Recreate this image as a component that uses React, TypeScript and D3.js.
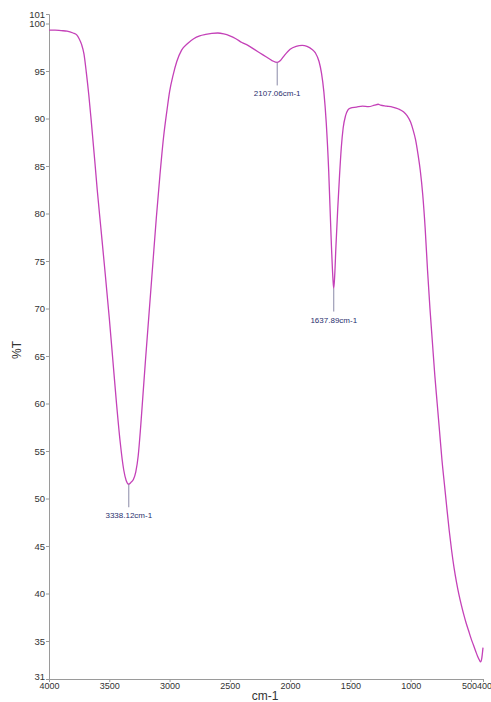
import React, { useEffect, useRef } from 'react';
import * as d3 from 'd3';

// IR spectrum, wavenumber (cm-1) vs transmittance (%T)
const wavenumbers = [
  4000, 3950, 3900, 3850, 3800, 3770, 3750, 3730, 3710, 3690, 3670, 3650, 3620, 3600, 3570, 3540,
  3500, 3470, 3440, 3410, 3380, 3360, 3338, 3320, 3300, 3280, 3260, 3240, 3220, 3200, 3170, 3140,
  3110, 3080, 3050, 3020, 3000, 2970, 2940, 2900, 2850, 2800, 2750, 2700, 2650, 2600, 2550, 2500,
  2450, 2400, 2350, 2300, 2250, 2200, 2150, 2107, 2080, 2050, 2000, 1950, 1900, 1860, 1820, 1790,
  1760, 1740, 1720, 1700, 1680, 1660, 1645, 1638, 1630, 1620, 1605, 1590, 1575, 1560, 1540, 1520,
  1500, 1450, 1400, 1350, 1300, 1270, 1250, 1200, 1150, 1100, 1060, 1030, 1000, 980, 960, 940,
  920, 900, 880, 860, 840, 820, 800, 780, 760, 740, 720, 700, 680, 660, 640, 620,
  600, 580, 560, 540, 520, 500, 480, 460, 445, 430, 420, 410, 400,
];
const transmittance = [
  99.3, 99.3, 99.25, 99.2, 99.0, 98.8, 98.4, 97.8, 96.8, 94.8, 92.5, 89.8, 85.5, 82.5, 78.5, 74.5,
  69.0, 64.5, 60.0, 56.0, 53.0, 51.9, 51.5, 51.7, 52.0, 52.8, 54.5, 57.5, 61.0, 64.5, 69.5, 74.5,
  79.5, 84.0, 88.0, 91.0, 92.8, 94.6, 96.0, 97.2, 97.9, 98.4, 98.7, 98.85, 98.95, 99.0, 98.9, 98.7,
  98.4, 98.0, 97.7, 97.3, 96.9, 96.5, 96.1, 95.9, 96.1, 96.6, 97.3, 97.6, 97.7, 97.6, 97.3, 96.9,
  96.0, 94.8, 92.8, 89.5, 84.5, 77.5, 73.2, 72.1, 73.5, 76.5, 80.5, 84.0, 87.0, 89.0, 90.3, 90.9,
  91.1, 91.2, 91.3, 91.25, 91.4, 91.5, 91.4, 91.3, 91.2, 91.0, 90.7, 90.3, 89.6, 88.8, 87.8, 86.3,
  84.5, 82.0, 78.5, 74.0, 70.0, 66.5, 63.0, 60.0, 57.0, 54.0, 51.5, 49.0, 46.6, 44.5, 42.7, 41.2,
  39.9, 38.8, 37.8, 36.9, 36.1, 35.3, 34.6, 33.9, 33.4, 33.0, 32.8, 33.2, 34.3,
];

const peakWn = [3338.12, 2107.06, 1637.89];
const peakT = [51.5, 95.9, 72.1];
const peakLabels = ['3338.12cm-1', '2107.06cm-1', '1637.89cm-1'];

const yTicks = [101, 100, 95, 90, 85, 80, 75, 70, 65, 60, 55, 50, 45, 40, 35, 31];
const xTicks = [4000, 3500, 3000, 2500, 2000, 1500, 1000, 500, 400];

const App = () => {
  const svgRef = useRef<SVGSVGElement>(null);

  useEffect(() => {
    const svg = d3.select(svgRef.current);
    svg.selectAll('*').remove();

    const x = d3.scaleLinear().domain([4000, 400]).range([49, 483]);
    const y = d3.scaleLinear().domain([31, 101]).range([679, 14]);

    const axisColor = '#9a9a9a';
    const textColor = '#333';
    const font = 'Arial, "Liberation Sans", sans-serif';

    // Y axis
    const yAxis = svg.append('g')
      .attr('transform', 'translate(49,0)')
      .call(d3.axisLeft(y).tickValues(yTicks).tickSize(3).tickPadding(1).tickFormat(d3.format('d')));
    yAxis.select('.domain').attr('stroke', axisColor);
    yAxis.selectAll('line').attr('stroke', axisColor);
    yAxis.selectAll('text')
      .attr('fill', textColor)
      .style('font-family', font)
      .style('font-size', '9.5px');
    // lift the bottom label a little so it clears the x labels
    yAxis.selectAll('.tick').filter(d => d === 31).select('text').attr('dy', '0.1em');

    // X axis
    const xAxis = svg.append('g')
      .attr('transform', 'translate(0,679)')
      .call(d3.axisBottom(x).tickValues(xTicks).tickSize(3).tickPadding(1).tickFormat(d3.format('d')));
    xAxis.select('.domain').attr('stroke', axisColor);
    xAxis.selectAll('line').attr('stroke', axisColor);
    xAxis.selectAll('text')
      .attr('fill', textColor)
      .style('font-family', font)
      .style('font-size', '9px');
    xAxis.selectAll('.tick').filter(d => d === 500).select('text').attr('dx', -2);
    xAxis.selectAll('.tick').filter(d => d === 400).select('text').attr('dx', 1);

    // Axis titles
    svg.append('text')
      .attr('x', 265)
      .attr('y', 700)
      .attr('text-anchor', 'middle')
      .attr('fill', textColor)
      .style('font-family', font)
      .style('font-size', '12px')
      .text('cm-1');

    svg.append('text')
      .attr('transform', 'translate(21,350) rotate(-90)')
      .attr('text-anchor', 'middle')
      .attr('fill', textColor)
      .style('font-family', font)
      .style('font-size', '12px')
      .text('%T');

    // Spectrum
    const data = wavenumbers.map((w, i) => ({ w, t: transmittance[i] }));
    const line = d3.line<{ w: number; t: number }>()
      .x(d => x(d.w))
      .y(d => y(d.t))
      .curve(d3.curveMonotoneX);

    svg.append('path')
      .datum(data)
      .attr('fill', 'none')
      .attr('stroke', '#c441b8')
      .attr('stroke-width', 1.3)
      .attr('d', line);

    // Peak markers
    peakWn.forEach((w, i) => {
      const px = x(w);
      const py = y(peakT[i]);
      svg.append('line')
        .attr('x1', px).attr('x2', px)
        .attr('y1', py).attr('y2', py + 23)
        .attr('stroke', '#8a8aa8')
        .attr('stroke-width', 1);
      svg.append('text')
        .attr('x', px)
        .attr('y', py + 34)
        .attr('text-anchor', 'middle')
        .attr('fill', '#2a2f6e')
        .style('font-family', font)
        .style('font-size', '8px')
        .text(peakLabels[i]);
    });
  }, []);

  return (
    <svg
      ref={svgRef}
      width={491}
      height={702}
      style={{ position: 'absolute', left: 0, top: 0, background: '#fff' }}
    />
  );
};

export default App;
